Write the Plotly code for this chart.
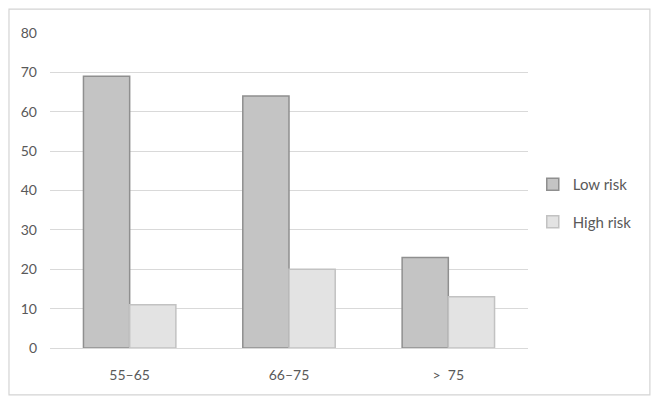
import plotly.graph_objects as go

# Age groups and patient counts per risk group
age_groups = ["55–65", "66–75", ">  75"]
low_risk = [69, 64, 23]
high_risk = [11, 20, 13]
y_ticks = [0, 10, 20, 30, 40, 50, 60, 70, 80]

fig = go.Figure()
fig.add_trace(go.Bar(
    x=age_groups, y=low_risk, name="Low risk", legendgroup="low",
    marker=dict(color="#c4c4c4", line=dict(color="#8f8f8f", width=1.5)),
))
fig.add_trace(go.Bar(
    x=age_groups, y=high_risk, name="High risk", legendgroup="high",
    marker=dict(color="#e3e3e3", line=dict(color="#c2c2c2", width=1.5)),
))

# outer chart border
fig.add_shape(type="rect", xref="paper", yref="paper",
              x0=-0.0858, x1=1.255, y0=-0.149, y1=1.076,
              line=dict(color="#d4d4d4", width=1.2))

fig.update_layout(
    width=643, height=388,
    margin=dict(l=42, r=123, t=25, b=48),
    plot_bgcolor="white", paper_bgcolor="white",
    barmode="group", bargap=0.42, bargroupgap=0,
    font=dict(family="Lato, 'Open Sans', sans-serif", size=14, color="#595959"),
    showlegend=True,
    legend=dict(x=1.01, y=0.46, yanchor="middle", xanchor="left",
                font=dict(size=15, color="#595959"), tracegroupgap=15,
                itemwidth=30, bgcolor="rgba(0,0,0,0)"),
    xaxis=dict(showgrid=False, showline=False, ticks="", ticklabelstandoff=17),
    yaxis=dict(range=[0, 80], tickvals=y_ticks, showgrid=True,
               gridcolor="#d9d9d9", gridwidth=1, zeroline=True,
               zerolinecolor="#d9d9d9", zerolinewidth=1,
               ticks="", ticklabelstandoff=12),
)

fig.write_html("out.html")
